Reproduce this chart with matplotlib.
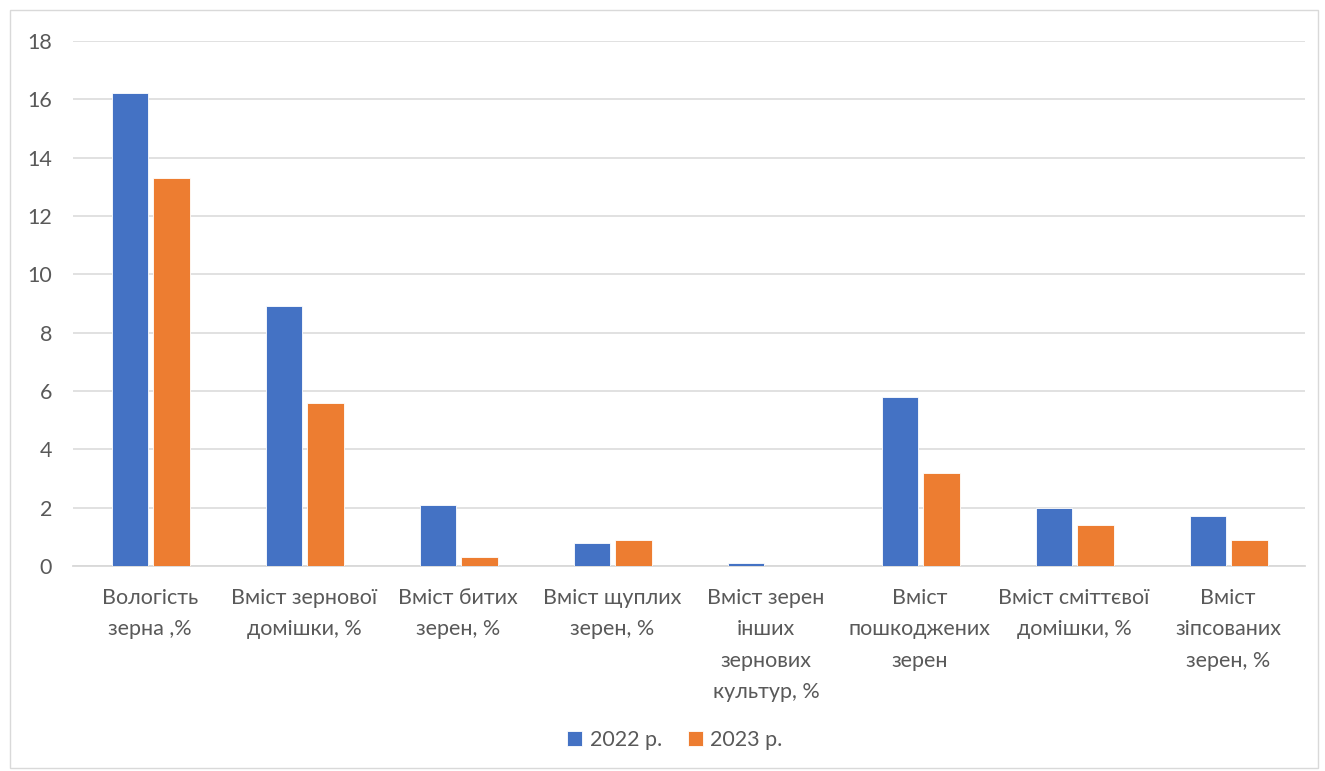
import matplotlib
matplotlib.use("Agg")
import matplotlib.pyplot as plt
import numpy as np
from matplotlib.patches import Rectangle

categories = [
    "Вологість\nзерна ,%",
    "Вміст зернової\nдомішки, %",
    "Вміст битих\nзерен, %",
    "Вміст щуплих\nзерен, %",
    "Вміст зерен\nінших\nзернових\nкультур, %",
    "Вміст\nпошкоджених\nзерен",
    "Вміст сміттєвої\nдомішки, %",
    "Вміст\nзіпсованих\nзерен, %",
]
series_names = ["2022 р.", "2023 р."]
values_2022 = [16.2, 8.9, 2.1, 0.8, 0.1, 5.8, 2.0, 1.7]
values_2023 = [13.3, 5.6, 0.3, 0.9, 0.0, 3.2, 1.4, 0.9]
yticks = [0, 2, 4, 6, 8, 10, 12, 14, 16, 18]

plt.rcParams['font.family'] = ['Lato', 'DejaVu Sans']
text_color = "#595959"
grid_color = "#d9d9d9"

W, H = 1325, 771
fig = plt.figure(figsize=(W / 100, H / 100), dpi=100)
ax = fig.add_axes([73 / W, 1 - 566 / H, (1305 - 73) / W, (566 - 41) / H])

x = np.arange(len(categories))
bw = 0.235
ax.bar(x - 0.13, values_2022, bw, color="#4472C4", edgecolor="white", linewidth=0.6,
       label=series_names[0], zorder=3)
ax.bar(x + 0.14, values_2023, bw, color="#ED7D31", edgecolor="white", linewidth=0.6,
       label=series_names[1], zorder=3)

ax.set_xlim(-0.5, len(categories) - 0.5)
ax.set_ylim(0, 18)
ax.set_yticks(yticks)
ax.set_yticklabels([str(t) for t in yticks])
ax.set_xticks(x)
ax.set_xticklabels(categories, linespacing=1.7)
ax.tick_params(axis='both', length=0, labelsize=15.5, labelcolor=text_color)
ax.tick_params(axis='y', pad=15)
ax.tick_params(axis='x', pad=16)
ax.grid(axis='y', color=grid_color, linewidth=1.1, zorder=0)
for s in ['top', 'right', 'left']:
    ax.spines[s].set_visible(False)
ax.spines['bottom'].set_color(grid_color)
ax.spines['bottom'].set_linewidth(1.3)

leg = fig.legend(loc='center', bbox_to_anchor=(675 / W, 1 - 740 / H), ncol=2, frameon=False,
                 fontsize=15.5, handlelength=0.7, handleheight=0.7, handletextpad=0.35,
                 columnspacing=1.2)
for t in leg.get_texts():
    t.set_color(text_color)

fig.patches.append(Rectangle((10 / W, 3 / H), (1318 - 10) / W, (H - 13) / H,
                             transform=fig.transFigure, fill=False,
                             edgecolor="#d9d9d9", linewidth=1))

fig.savefig("out.png", dpi=100, facecolor="white")
